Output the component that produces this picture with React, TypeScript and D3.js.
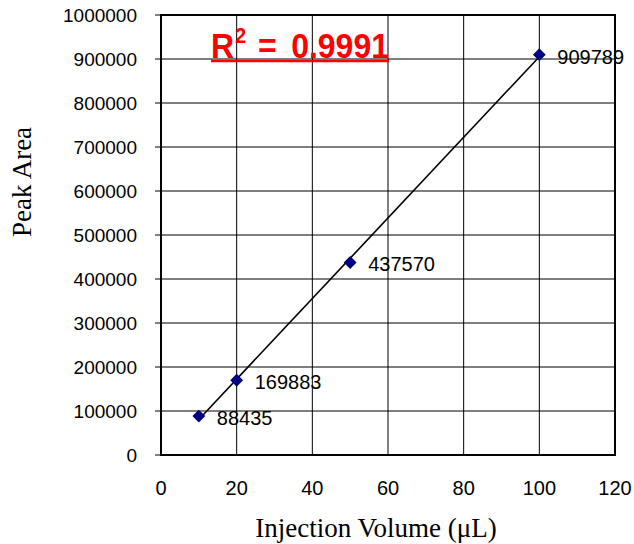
import React from "react";
import * as d3 from "d3";

const volumes = [10, 20, 50, 100];
const peakAreas = [88435, 169883, 437570, 909789];
const xTicks = [0, 20, 40, 60, 80, 100, 120];
const yTicks = [0, 100000, 200000, 300000, 400000, 500000, 600000, 700000, 800000, 900000, 1000000];
const rSquaredLabel = "0.9991";

const width = 634;
const height = 544;
const plot = { left: 161, top: 15, right: 615, bottom: 455 };

const App: React.FC = () => {
  const x = d3.scaleLinear().domain([0, 120]).range([plot.left, plot.right]);
  const y = d3.scaleLinear().domain([0, 1000000]).range([plot.bottom, plot.top]);

  // least squares trend line
  const mx = d3.mean(volumes) as number;
  const my = d3.mean(peakAreas) as number;
  const sxy = d3.sum(volumes, (v, i) => (v - mx) * (peakAreas[i] - my));
  const sxx = d3.sum(volumes, (v) => (v - mx) ** 2);
  const slope = sxy / sxx;
  const intercept = my - slope * mx;
  const x0 = d3.min(volumes) as number;
  const x1 = d3.max(volumes) as number;

  const diamond = d3.symbol().type(d3.symbolDiamond2).size(105);
  const sans = "Arial, 'Liberation Sans', sans-serif";
  const serif = "'Times New Roman', 'Liberation Serif', serif";

  return (
    <svg
      width={width}
      height={height}
      style={{ position: "absolute", left: 0, top: 0, background: "#fff" }}
    >
      {/* gridlines */}
      {xTicks.map((t) => (
        <line key={"gx" + t} x1={x(t)} x2={x(t)} y1={plot.top} y2={plot.bottom} stroke="#000" strokeWidth={1} />
      ))}
      {yTicks.map((t) => (
        <line key={"gy" + t} x1={plot.left - 6} x2={plot.right} y1={y(t)} y2={y(t)} stroke="#000" strokeWidth={1} />
      ))}
      <rect
        x={plot.left}
        y={plot.top}
        width={plot.right - plot.left}
        height={plot.bottom - plot.top}
        fill="none"
        stroke="#000"
        strokeWidth={2}
      />

      {/* tick labels */}
      {yTicks.map((t) => (
        <text key={"ly" + t} x={137} y={y(t)} dy="0.36em" textAnchor="end" fontFamily={sans} fontSize={19}>
          {t}
        </text>
      ))}
      {xTicks.map((t) => (
        <text key={"lx" + t} x={x(t)} y={495} textAnchor="middle" fontFamily={sans} fontSize={20}>
          {t}
        </text>
      ))}

      {/* trend line */}
      <line
        x1={x(x0)}
        y1={y(slope * x0 + intercept)}
        x2={x(x1)}
        y2={y(slope * x1 + intercept)}
        stroke="#000"
        strokeWidth={1.6}
      />

      {/* points + labels */}
      {volumes.map((v, i) => (
        <g key={"p" + v}>
          <path d={diamond() as string} transform={`translate(${x(v)},${y(peakAreas[i])})`} fill="#000080" />
          <text x={x(v) + 18} y={y(peakAreas[i]) + 9} fontFamily={sans} fontSize={20}>
            {peakAreas[i]}
          </text>
        </g>
      ))}

      {/* R squared */}
      <g fill="#ff0000" fontFamily={sans} fontWeight="bold">
        <g transform="translate(0,58) scale(1,1.12) translate(0,-58)">
          <text x={211} y={58} fontSize={32}>R</text>
          <text x={235} y={45} fontSize={20}>2</text>
          <text x={258} y={58} fontSize={32}>=</text>
          <text x={389} y={58} fontSize={32} textAnchor="end">{rSquaredLabel}</text>
        </g>
        <line x1={211} x2={389} y1={61} y2={61} stroke="#ff0000" strokeWidth={2.5} />
      </g>

      {/* axis titles */}
      <text x={376} y={537} textAnchor="middle" fontFamily={serif} fontSize={27}>
        Injection Volume (μL)
      </text>
      <text
        transform="translate(31,182) rotate(-90)"
        textAnchor="middle"
        fontFamily={serif}
        fontSize={27}
      >
        Peak Area
      </text>
    </svg>
  );
};

export default App;
